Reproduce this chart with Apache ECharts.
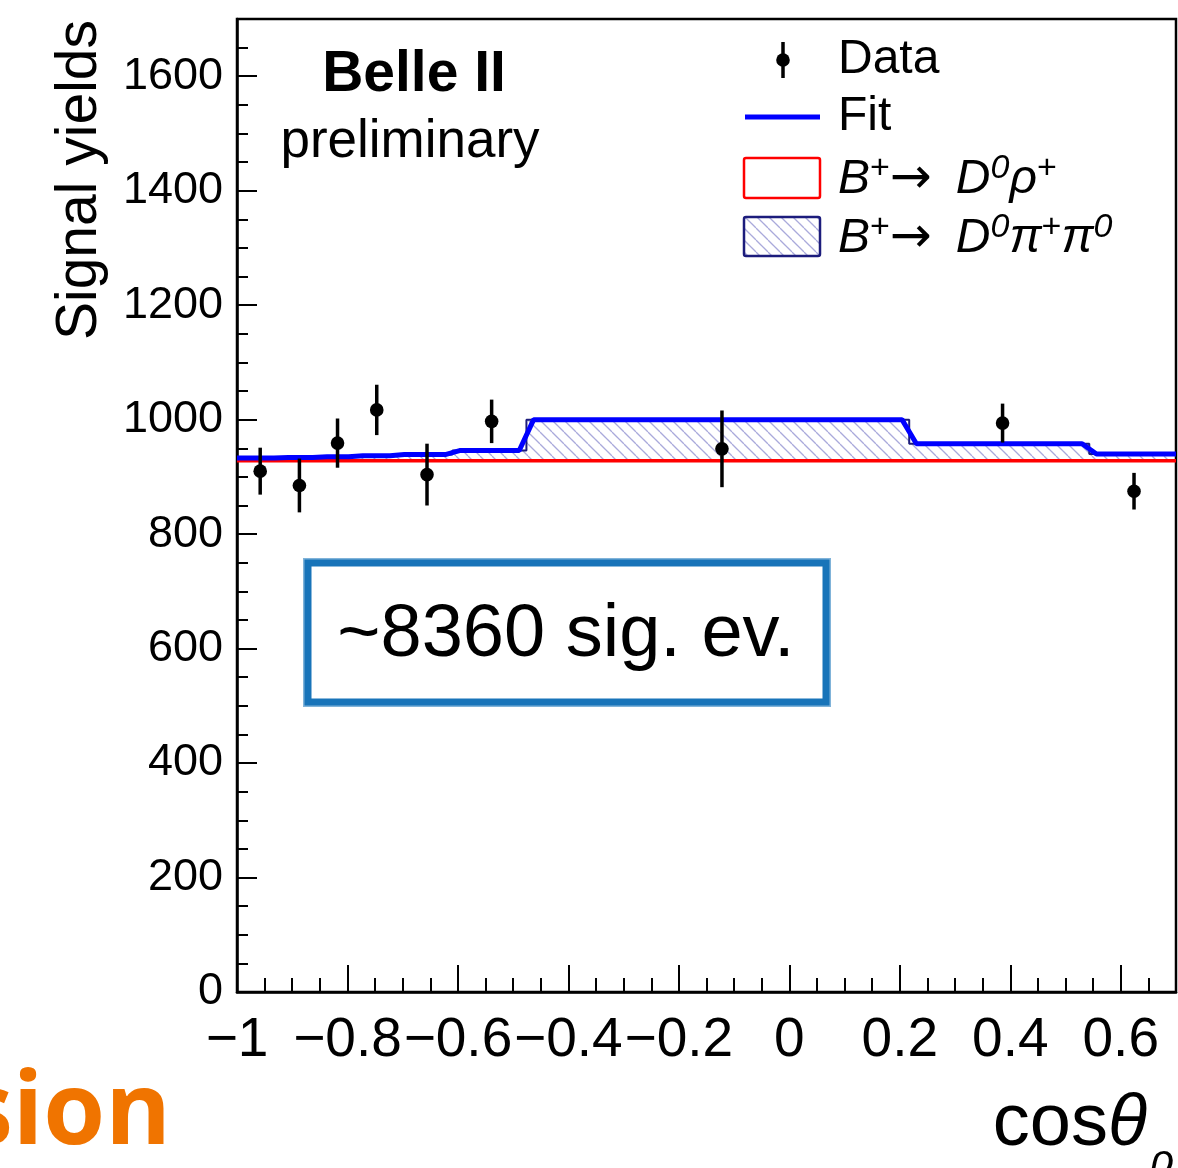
<!DOCTYPE html>
<html>
<head>
<meta charset="utf-8">
<script src="https://cdn.jsdelivr.net/npm/echarts@6/dist/echarts.min.js"></script>
<style>
  html, body { margin: 0; padding: 0; background: #ffffff; }
  #chart { width: 1178px; height: 1168px; }
</style>
</head>
<body>
<div id="chart"></div>
<script>
// Bin edges of the cos(theta_rho) histogram
const binEdges = [-1, -0.92, -0.85, -0.785, -0.71, -0.61, -0.476, 0.217, 0.543, 0.7];
// Fitted components per bin
const rhoYield = [928, 928, 928, 928, 928, 928, 928, 928, 928];
const pipiYield = [4, 5, 7, 9, 11, 18, 72, 30, 12];
const fitYield = [933, 934, 935, 937, 939, 946, 1000, 958, 940];
// Measured signal yields with uncertainties
const dataX = [-0.958, -0.887, -0.818, -0.747, -0.656, -0.539, -0.122, 0.386, 0.624];
const dataY = [910, 885, 959, 1017, 904, 997, 949, 994, 875];
const dataErr = [41, 47, 43, 44, 54, 38, 67, 34, 32];
// Axis ranges and tick spacing
const xRange = [-1, 0.7];
const yRange = [0, 1700];
const xMajor = 0.2, xMinor = 0.05;
const yMajor = 200, yMinor = 50;

const FONT = '"Liberation Sans", Arial, Helvetica, sans-serif';

// Diagonal hatch used for the B+ -> D0 pi+ pi0 component
function makeHatch() {
  const s = 12;
  const c = document.createElement('canvas');
  c.width = s; c.height = s;
  const g = c.getContext('2d');
  g.strokeStyle = 'rgba(100,100,190,0.55)';
  g.lineWidth = 1.3;
  for (let k = -1; k <= 1; k++) {
    g.beginPath();
    g.moveTo(k * s, 0);
    g.lineTo(k * s + s, s);
    g.stroke();
  }
  return { image: c, repeat: 'repeat' };
}
const hatch = makeHatch();

// Step outlines built from bin edges
function stepPoints(levels) {
  const pts = [];
  levels.forEach((v, i) => {
    pts.push([binEdges[i], v]);
    pts.push([binEdges[i + 1], v]);
  });
  return pts;
}
// Fit curve: slightly ramped transitions between bins
function rampPoints(levels, half) {
  const pts = [];
  levels.forEach((v, i) => {
    const lo = i === 0 ? binEdges[i] : binEdges[i] + half;
    const hi = i === levels.length - 1 ? binEdges[i + 1] : binEdges[i + 1] - half;
    pts.push([lo, v]);
    pts.push([hi, v]);
  });
  return pts;
}
const stackTop = rhoYield.map((r, i) => r + pipiYield[i]);

const fmtX = v => {
  const r = Math.round(v * 100) / 100;
  return r < 0 ? '\u2212' + Math.abs(r) : String(r);
};
const fmtY = v => String(Math.round(v));

const chart = echarts.init(document.getElementById('chart'), null, { renderer: 'canvas' });

const legendRich = {
  i: { fontFamily: FONT, fontStyle: 'italic', fontSize: 48, lineHeight: 56, color: '#000' },
  ar: { fontFamily: '"DejaVu Sans", sans-serif', fontSize: 50, lineHeight: 56, width: 66, align: 'left', color: '#000' },
  sp: { fontFamily: FONT, fontSize: 34, lineHeight: 28, verticalAlign: 'top', color: '#000' },
  spi: { fontFamily: FONT, fontStyle: 'italic', fontSize: 34, lineHeight: 28, verticalAlign: 'top', color: '#000' }
};

const option = {
  animation: false,
  backgroundColor: '#ffffff',
  grid: {
    left: 237, right: 2, top: 19, bottom: 176,
    show: true, borderColor: '#000', borderWidth: 2.5, backgroundColor: 'transparent'
  },
  xAxis: [
    {
      type: 'value', position: 'bottom', min: xRange[0], max: xRange[1], interval: xMajor,
      axisLine: { show: true, onZero: false, lineStyle: { color: '#000', width: 2.5 } },
      axisTick: { show: true, inside: true, length: 27, lineStyle: { color: '#000', width: 2 } },
      axisLabel: { show: true, margin: 21, showMaxLabel: false, fontFamily: FONT, fontSize: 55, color: '#000', formatter: fmtX },
      splitLine: { show: false }
    },
    {
      type: 'value', position: 'bottom', min: xRange[0], max: xRange[1], interval: xMinor,
      axisLine: { show: false, onZero: false },
      axisTick: { show: true, inside: true, length: 14, lineStyle: { color: '#000', width: 2 } },
      axisLabel: { show: false },
      splitLine: { show: false }
    }
  ],
  yAxis: [
    {
      type: 'value', position: 'left', min: yRange[0], max: yRange[1], interval: yMajor,
      axisLine: { show: true, onZero: false, lineStyle: { color: '#000', width: 2.5 } },
      axisTick: { show: true, inside: true, length: 20, lineStyle: { color: '#000', width: 2 } },
      axisLabel: { show: true, margin: 14, showMaxLabel: false, fontFamily: FONT, fontSize: 45, color: '#000', formatter: fmtY },
      splitLine: { show: false }
    },
    {
      type: 'value', position: 'left', min: yRange[0], max: yRange[1], interval: yMinor,
      axisLine: { show: false, onZero: false },
      axisTick: { show: true, inside: true, length: 11, lineStyle: { color: '#000', width: 2 } },
      axisLabel: { show: false },
      splitLine: { show: false }
    }
  ],
  series: [
    {
      name: 'B+ -> D0 pi+ pi0',
      type: 'custom',
      xAxisIndex: 0, yAxisIndex: 0,
      z: 2,
      data: binEdges.slice(0, -1).map((lo, i) => [lo, binEdges[i + 1], rhoYield[i], stackTop[i]]),
      renderItem(params, api) {
        const a = api.coord([api.value(0), api.value(3)]);
        const b = api.coord([api.value(1), api.value(2)]);
        return {
          type: 'rect',
          shape: { x: a[0], y: a[1], width: b[0] - a[0], height: b[1] - a[1] },
          style: { fill: hatch, stroke: null }
        };
      }
    },
    {
      name: 'pi pi outline',
      type: 'line', xAxisIndex: 0, yAxisIndex: 0, z: 3,
      data: stepPoints(stackTop), showSymbol: false, symbol: 'none',
      lineStyle: { color: '#1c1c7c', width: 2 }
    },
    {
      name: 'B+ -> D0 rho+',
      type: 'line', xAxisIndex: 0, yAxisIndex: 0, z: 4,
      data: stepPoints(rhoYield), showSymbol: false, symbol: 'none',
      lineStyle: { color: '#ff0000', width: 3.5 }
    },
    {
      name: 'Fit',
      type: 'line', xAxisIndex: 0, yAxisIndex: 0, z: 5,
      data: rampPoints(fitYield, 0.013), showSymbol: false, symbol: 'none',
      lineStyle: { color: '#0000ff', width: 5 }
    },
    {
      name: 'Data',
      type: 'custom', xAxisIndex: 0, yAxisIndex: 0, z: 10,
      data: dataX.map((x, i) => [x, dataY[i], dataErr[i]]),
      renderItem(params, api) {
        const x = api.value(0), y = api.value(1), e = api.value(2);
        const p = api.coord([x, y]);
        const hi = api.coord([x, y + e]);
        const lo = api.coord([x, y - e]);
        return {
          type: 'group',
          children: [
            { type: 'line', shape: { x1: p[0], y1: hi[1], x2: p[0], y2: lo[1] }, style: { stroke: '#000', lineWidth: 3.5 } },
            { type: 'circle', shape: { cx: p[0], cy: p[1], r: 6.8 }, style: { fill: '#000' } }
          ]
        };
      }
    }
  ],
  graphic: [
    // axis titles
    {
      type: 'text', x: 80, y: 20, rotation: Math.PI / 2,
      style: { text: 'Signal yields', fontFamily: FONT, fontSize: 57, fill: '#000', align: 'right', verticalAlign: 'middle' }
    },
    {
      type: 'text', x: 1147, y: 1125,
      style: {
        text: '{a|cos}{b|\u03b8}', align: 'right', verticalAlign: 'middle',
        rich: {
          a: { fontFamily: FONT, fontSize: 74, color: '#000' },
          b: { fontFamily: FONT, fontStyle: 'italic', fontSize: 72, color: '#000' }
        }
      }
    },
    {
      type: 'text', x: 1150, y: 1162,
      style: { text: '\u03c1', fontFamily: FONT, fontStyle: 'italic', fontSize: 42, fill: '#000', align: 'left', verticalAlign: 'middle' }
    },
    // experiment label
    {
      type: 'text', x: 414, y: 75,
      style: { text: 'Belle II', fontFamily: FONT, fontWeight: 'bold', fontSize: 57, fill: '#000', align: 'center', verticalAlign: 'middle' }
    },
    {
      type: 'text', x: 410, y: 142,
      style: { text: 'preliminary', fontFamily: FONT, fontSize: 53, fill: '#000', align: 'center', verticalAlign: 'middle' }
    },
    // legend: Data
    { type: 'line', shape: { x1: 783, y1: 42, x2: 783, y2: 78 }, style: { stroke: '#000', lineWidth: 3.5 } },
    { type: 'circle', shape: { cx: 783, cy: 60, r: 6.8 }, style: { fill: '#000' } },
    { type: 'text', x: 838, y: 60, style: { text: 'Data', fontFamily: FONT, fontSize: 48, fill: '#000', align: 'left', verticalAlign: 'middle' } },
    // legend: Fit
    { type: 'line', shape: { x1: 745, y1: 117, x2: 820, y2: 117 }, style: { stroke: '#0000ff', lineWidth: 5 } },
    { type: 'text', x: 838, y: 117, style: { text: 'Fit', fontFamily: FONT, fontSize: 48, fill: '#000', align: 'left', verticalAlign: 'middle' } },
    // legend: rho component
    { type: 'rect', shape: { x: 744, y: 158, width: 76, height: 40, r: 2 }, style: { fill: null, stroke: '#ff0000', lineWidth: 2.5 } },
    {
      type: 'text', x: 838, y: 180,
      style: { text: '{i|B}{sp|+}{ar|\u2192}{i|D}{spi|0}{i|\u03c1}{sp|+}', align: 'left', verticalAlign: 'middle', rich: legendRich }
    },
    // legend: pi pi component
    { type: 'rect', shape: { x: 744, y: 217, width: 76, height: 39, r: 2 }, style: { fill: hatch, stroke: '#1c1c7c', lineWidth: 2.5 } },
    {
      type: 'text', x: 838, y: 239,
      style: { text: '{i|B}{sp|+}{ar|\u2192}{i|D}{spi|0}{i|\u03c0}{sp|+}{i|\u03c0}{spi|0}', align: 'left', verticalAlign: 'middle', rich: legendRich }
    },
    // signal count box
    { type: 'rect', shape: { x: 308, y: 563, width: 518, height: 139 }, style: { fill: '#ffffff', stroke: '#1874b9', lineWidth: 7 } },
    { type: 'rect', shape: { x: 304, y: 559, width: 526, height: 147 }, style: { fill: null, stroke: 'rgba(24,116,185,0.55)', lineWidth: 2 } },
    {
      type: 'text', x: 566, y: 636,
      style: { text: '~8360 sig. ev.', fontFamily: FONT, fontSize: 74, fill: '#000', align: 'center', verticalAlign: 'middle' }
    },
    // partial word at the lower left
    {
      type: 'text', x: 171, y: 1116,
      style: { text: 'sion', fontFamily: '"Open Sans", sans-serif', fontWeight: 'bold', fontSize: 100, fill: '#f07400', align: 'right', verticalAlign: 'middle' }
    }
  ]
};

chart.setOption(option);
</script>
</body>
</html>
